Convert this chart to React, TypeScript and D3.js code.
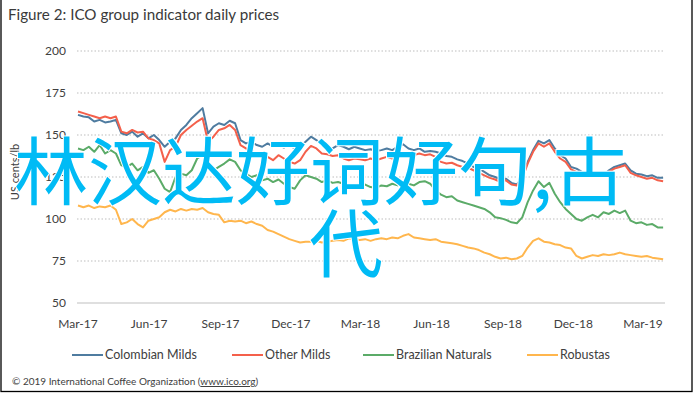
import { line, scaleLinear, scaleTime, timeDay, timeMonth } from 'd3'

// weekly readings from 1 Mar 2017 to late Mar 2019 (US cents/lb)
const START = new Date(2017, 2, 1)

const colombianMilds = [
  162, 161, 160.5, 158, 159, 157.5, 158, 159, 151, 150, 152, 149, 151, 148, 150, 147, 143, 146, 148, 153,
  156, 160, 163, 166, 151, 155, 157, 156, 158.5, 157, 147, 145, 146, 144, 143, 145, 143, 144, 142.5, 144,
  142, 143.5, 146, 149, 147, 144.5, 143, 142, 144, 143, 141.5, 143, 142, 141, 141.5, 140.5, 141, 142, 141, 143,
  144.5, 142, 141, 142, 140, 140.5, 140, 139, 137.5, 137, 135.5, 134.5, 133, 131, 130, 128, 126, 125, 123.5, 124,
  121.5, 120.5, 125, 134, 141, 146.5, 145, 147, 142, 138, 136, 131, 130, 128, 127, 126.5, 127.5, 126, 129, 131,
  132, 133, 129, 127, 126.5, 125.5, 126, 124.5, 124.5,
]
const otherMilds = [
  164, 163, 162, 161, 160, 161, 160, 161, 152, 151, 153, 151.5, 152, 148, 147, 145, 134, 141, 143, 150,
  153, 155.5, 158, 160, 146, 149, 153, 154, 156, 153, 144, 142, 141, 138, 139.5, 137, 135, 138, 136, 134,
  133, 135, 140, 143.5, 142, 139, 138.5, 137.5, 138, 136, 135, 136, 135.5, 135, 136, 135, 136, 137, 136, 138,
  139, 137.5, 138, 139, 138, 138.5, 137, 134, 133, 133.5, 132, 131, 130.5, 129, 127.5, 126, 124.5, 123.5, 122, 123,
  120.5, 120, 124, 133, 140, 145, 143, 145, 140, 136, 134, 129.5, 128, 126.5, 125.5, 125, 126, 125, 128, 130,
  131, 132, 127.5, 126, 125, 124, 124.5, 123, 122.5,
]
const brazilianNaturals = [
  142, 141, 143, 140, 144, 139, 141, 139, 132, 131, 133, 129, 131, 127.5, 129, 124, 118, 116, 125, 127,
  126, 129, 136, 138, 131, 129, 131, 133, 135.5, 134, 129, 127, 125, 126, 123, 124, 122, 123.5, 121, 119,
  118, 123, 126, 125, 124, 122, 123, 121.5, 122, 121, 120, 119, 121, 120.5, 119, 118.5, 120, 119.5, 121, 120,
  122, 121, 120, 122, 122.5, 121, 117, 114.5, 113, 113.5, 111, 110, 109, 108, 107, 106, 104, 101, 100.5, 99.5,
  98, 97.5, 101, 110, 117, 122.5, 119, 121.5, 115, 110, 106, 103, 100, 99, 101, 102.5, 101, 104, 103, 105,
  103.5, 105, 99, 97.5, 98, 96.5, 97, 95, 95,
]
const robustas = [
  108, 107, 108, 106.5, 107.5, 107, 108, 105.5, 97, 98, 100, 97, 95, 99, 100, 101, 104, 105.5, 104.5, 106,
  105, 106, 105.5, 106.5, 104, 103, 102.5, 98, 99, 98.5, 99, 97.5, 98.5, 97, 96, 93.5, 92.5, 91, 89.5, 88,
  87, 86, 86.5, 86.5, 87, 86, 86.5, 87, 87.5, 87, 88.5, 88, 87.5, 88, 87, 88, 88.5, 88, 89, 88.5,
  90, 91, 89, 88.5, 88, 87.5, 88, 86.5, 86, 85.5, 85, 84, 83, 82.5, 81.5, 80, 79, 77.5, 76.5, 77,
  76, 76.5, 78, 83, 87, 88.5, 86.5, 86, 85, 84.5, 83, 82.5, 78, 76.5, 77.5, 78.5, 78, 79, 78.5, 79,
  80, 79, 78.5, 78, 77.5, 78, 77, 76.5, 76,
]

const seriesNames = ['Colombian Milds', 'Other Milds', 'Brazilian Naturals', 'Robustas']
const seriesColors = ['#4f7ca0', '#f4604b', '#5bab68', '#ffb64d']
const seriesValues = [colombianMilds, otherMilds, brazilianNaturals, robustas]

const yTicks = [50, 75, 100, 125, 150, 175, 200]
const xTickLabels = ['Mar-17', 'Jun-17', 'Sep-17', 'Dec-17', 'Mar-18', 'Jun-18', 'Sep-18', 'Dec-18', 'Mar-19']

const FONT = 'Lato, "Open Sans", sans-serif'
const CJK = '"Noto Sans CJK SC", sans-serif'

export default function App() {
  const width = 695
  const height = 394
  const x = scaleTime().domain([START, new Date(2019, 2, 1)]).range([78, 643])
  const y = scaleLinear().domain([50, 200]).range([303, 51])
  const plotRight = 665

  const path = line<number>()
    .x((_, i) => x(timeDay.offset(START, i * 7)))
    .y((v) => y(v))

  const legendX = [72, 232, 363, 527]

  return (
    <svg width={width} height={height} style={{ position: 'absolute', left: 0, top: 0, background: '#fff' }}>
      <rect x={1} y={-2} width={691} height={393.5} fill="#fff" stroke="#000" strokeWidth={1.3} />
      <text x={8} y={20} fontFamily={FONT} fontSize={15.2} fill="#3a3a3a">
        Figure 2: ICO group indicator daily prices
      </text>

      {yTicks.map((t) => (
        <g key={t}>
          <line
            x1={77}
            x2={plotRight}
            y1={y(t)}
            y2={y(t)}
            stroke="#d4d4d4"
            strokeWidth={t === 50 ? 1.5 : 1.3}
            strokeDasharray={t === 50 ? undefined : '1.5 2'}
          />
          <text x={66} y={y(t)} dy="0.35em" textAnchor="end" fontFamily={FONT} fontSize={12} fill="#404040">
            {t}
          </text>
        </g>
      ))}

      {xTickLabels.map((label, i) => (
        <text
          key={label}
          x={x(timeMonth.offset(START, i * 3))}
          y={328}
          textAnchor="middle"
          fontFamily={FONT}
          fontSize={12}
          fill="#404040"
        >
          {label}
        </text>
      ))}

      <text
        transform="translate(19,172) rotate(-90)"
        textAnchor="middle"
        fontFamily={FONT}
        fontSize={11}
        fill="#404040"
      >
        US cents/lb
      </text>

      {seriesValues.map((vals, i) => (
        <path key={seriesNames[i]} d={path(vals) ?? ''} fill="none" stroke={seriesColors[i]} strokeWidth={2} strokeLinejoin="round" />
      ))}

      {seriesNames.map((name, i) => (
        <g key={name}>
          <line x1={legendX[i]} x2={legendX[i] + 31} y1={355} y2={355} stroke={seriesColors[i]} strokeWidth={2} />
          <text x={legendX[i] + 33} y={355} dy="0.35em" fontFamily={FONT} fontSize={12.5} fill="#404040">
            {name}
          </text>
        </g>
      ))}

      <text x={12} y={385} fontFamily={FONT} fontSize={10} fill="#404040">
        © 2019 International Coffee Organization (<tspan textDecoration="underline">www.ico.org</tspan>)
      </text>

      <g fontFamily={CJK} fontSize={74} fill="#00bbf5" stroke="#fff" strokeWidth={2} paintOrder="stroke">
        <text x={14} y={199}>林汉达好词好句,古</text>
        <text x={309} y={271}>代</text>
      </g>
    </svg>
  )
}
